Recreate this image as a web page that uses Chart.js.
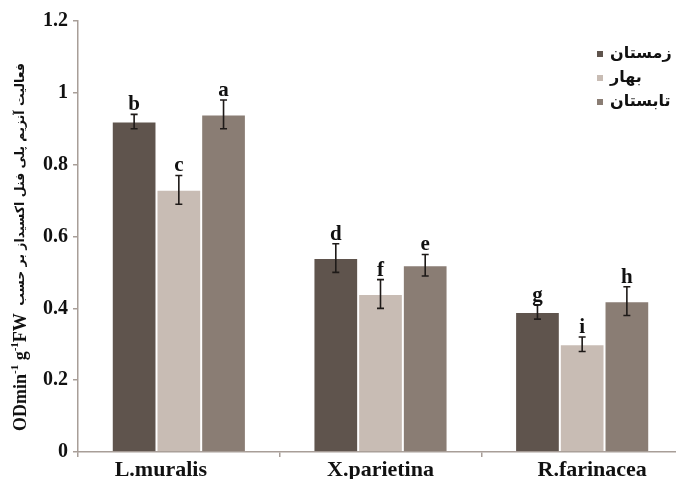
<!DOCTYPE html>
<html>
<head>
<meta charset="utf-8">
<script src="https://cdn.jsdelivr.net/npm/chart.js@4/dist/chart.umd.min.js"></script>
<style>
  html, body { margin: 0; padding: 0; background: #ffffff; overflow: hidden; }
  #wrap { width: 676px; height: 479px; overflow: hidden; }
  #c { display: block; }
</style>
</head>
<body>
<div id="wrap"><canvas id="c" width="684" height="479"></canvas></div>
<script>
// Species on the x axis
const categories = ['L.muralis', 'X.parietina', 'R.farinacea'];
// Seasons (legend)
const seasons = ['زمستان', 'بهار', 'تابستان'];
// Enzyme activity per season
const winter = [0.92, 0.54, 0.39];
const spring = [0.73, 0.44, 0.30];
const summer = [0.94, 0.52, 0.42];
// Error bar half-widths
const winterErr = [0.02, 0.04, 0.02];
const springErr = [0.04, 0.04, 0.02];
const summerErr = [0.04, 0.03, 0.04];
// Significance letters
const winterSig = ['b', 'd', 'g'];
const springSig = ['c', 'f', 'i'];
const summerSig = ['a', 'e', 'h'];
// Y tick labels
const yTicks = [0, 0.2, 0.4, 0.6, 0.8, 1, 1.2];

const colors = ['#5f544d', '#c8bcb4', '#8a7d74'];
const axisColor = '#a89e98';
const serif = '"Liberation Serif", "DejaVu Serif", serif';
// horizontal nudges for the category names under the axis
const labelShift = [-18, 0, 10];

const errorBars = {
  id: 'errorBars',
  afterDatasetsDraw(chart) {
    const ctx = chart.ctx;
    const y = chart.scales.y;
    chart.data.datasets.forEach((ds, di) => {
      const meta = chart.getDatasetMeta(di);
      meta.data.forEach((bar, i) => {
        const v = ds.data[i], e = ds.err[i];
        const yTop = y.getPixelForValue(v + e);
        const yBot = y.getPixelForValue(v - e);
        const x = bar.x;
        ctx.save();
        ctx.strokeStyle = '#1e1a18';
        ctx.lineWidth = 1.6;
        ctx.beginPath();
        ctx.moveTo(x, yTop); ctx.lineTo(x, yBot);
        ctx.moveTo(x - 3.5, yTop); ctx.lineTo(x + 3.5, yTop);
        ctx.moveTo(x - 3.5, yBot); ctx.lineTo(x + 3.5, yBot);
        ctx.stroke();
        ctx.fillStyle = '#111111';
        ctx.font = 'bold 21px ' + serif;
        ctx.textAlign = 'center';
        ctx.textBaseline = 'alphabetic';
        ctx.fillText(ds.sig[i], x, yTop - 4);
        ctx.restore();
      });
    });
  }
};

const legendAndTitle = {
  id: 'legendAndTitle',
  afterDraw(chart) {
    const ctx = chart.ctx;
    // Category names under the x axis
    const xs = chart.scales.x;
    ctx.save();
    ctx.fillStyle = '#111111';
    ctx.font = 'bold 22px ' + serif;
    ctx.textAlign = 'center';
    ctx.textBaseline = 'alphabetic';
    chart.data.labels.forEach((lab, i) => {
      ctx.fillText(lab, xs.getPixelForValue(i) + labelShift[i], 476);
    });
    ctx.restore();

    // Legend, top right
    ctx.save();
    chart.data.datasets.forEach((ds, i) => {
      const yy = 54 + i * 24;
      ctx.fillStyle = ds.backgroundColor;
      ctx.fillRect(597, yy - 3, 6, 6);
      ctx.fillStyle = '#111111';
      ctx.font = 'bold 16px "DejaVu Sans", sans-serif';
      ctx.textAlign = 'left';
      ctx.textBaseline = 'middle';
      ctx.fillText(ds.label, 610, yy);
    });
    ctx.restore();

    // Rotated y-axis title with superscripts
    ctx.save();
    ctx.translate(21, 431);
    ctx.rotate(-Math.PI / 2);
    ctx.fillStyle = '#111111';
    ctx.textBaseline = 'middle';
    ctx.textAlign = 'left';
    const big = 'bold 18px ' + serif;
    const small = 'bold 11px ' + serif;
    const parts = [
      ['ODmin', big, 0], ['-1', small, -6], [' g', big, 0], ['-1', small, -6], ['FW', big, 0]
    ];
    let x = 0;
    parts.forEach(p => {
      ctx.font = p[1];
      ctx.fillText(p[0], x, p[2]);
      x += ctx.measureText(p[0]).width;
    });
    ctx.font = 'bold 12.5px "DejaVu Sans", sans-serif';
    ctx.fillText(' فعالیت آنزیم پلی فنل اکسیداز بر حسب', x + 3, 0);
    ctx.restore();
  }
};

new Chart(document.getElementById('c'), {
  type: 'bar',
  data: {
    labels: categories,
    datasets: [
      { label: seasons[0], data: winter, err: winterErr, sig: winterSig, backgroundColor: colors[0] },
      { label: seasons[1], data: spring, err: springErr, sig: springSig, backgroundColor: colors[1] },
      { label: seasons[2], data: summer, err: summerErr, sig: summerSig, backgroundColor: colors[2] }
    ].map(d => Object.assign(d, {
      borderColor: '#ffffff', borderWidth: 1,
      categoryPercentage: 0.665, barPercentage: 1.0
    }))
  },
  options: {
    responsive: false,
    animation: false,
    layout: { padding: { top: 21, right: 1, left: 0, bottom: 0 } },
    plugins: { legend: { display: false }, tooltip: { enabled: false } },
    scales: {
      x: {
        afterFit(s) { s.height = 27; },
        border: { color: axisColor, width: 1.5 },
        grid: { display: true, offset: true, drawOnChartArea: false, drawTicks: true, tickLength: 5, color: axisColor, lineWidth: 1.5 },
        ticks: { display: false }
      },
      y: {
        min: 0, max: 1.2,
        afterFit(s) { s.width = 78; },
        afterBuildTicks(s) { s.ticks = yTicks.map(v => ({ value: v })); },
        border: { color: axisColor, width: 1.5 },
        grid: { display: true, drawOnChartArea: false, drawTicks: true, tickLength: 5, color: axisColor, lineWidth: 1.5 },
        ticks: {
          color: '#111111', padding: 5,
          font: { family: serif, size: 20, weight: 'bold' },
          callback: v => String(v)
        }
      }
    }
  },
  plugins: [errorBars, legendAndTitle]
});
</script>
</body>
</html>
